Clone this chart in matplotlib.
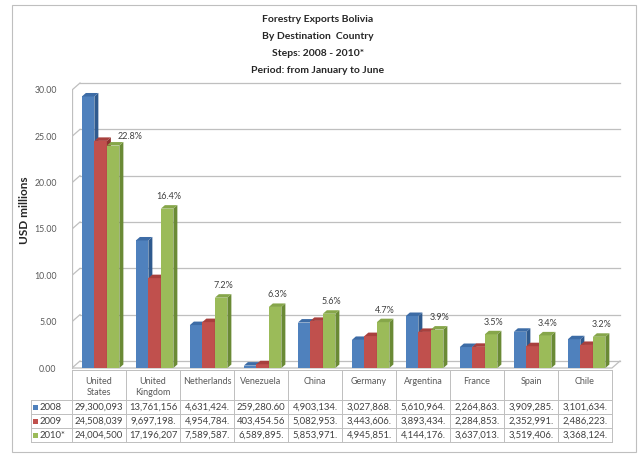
import numpy as np
import matplotlib.pyplot as plt
from matplotlib.patches import Polygon, Rectangle

plt.rcParams['font.family'] = ['Lato', 'DejaVu Sans']

# Exportaciones forestales por país de destino (USD), enero a junio
paises = ['United\nStates', 'United\nKingdom', 'Netherlands', 'Venezuela', 'China',
          'Germany', 'Argentina', 'France', 'Spain', 'Chile']
anos = ['2008', '2009', '2010*']
usd_2008 = [29300093.00, 13761156.00, 4631424.00, 259280.60, 4903134.00,
            3027868.00, 5610964.00, 2264863.00, 3909285.00, 3101634.00]
usd_2009 = [24508039.00, 9697198.00, 4954784.00, 403454.56, 5082953.00,
            3443606.00, 3893434.00, 2284853.00, 2352991.00, 2486223.00]
usd_2010 = [24004500.00, 17196207.00, 7589587.00, 6589895.00, 5853971.00,
            4945851.00, 4144176.00, 3637013.00, 3519406.00, 3368124.00]
participacion = ['22.8%', '16.4%', '7.2%', '6.3%', '5.6%', '4.7%', '3.9%', '3.5%', '3.4%', '3.2%']
titulo = ['Forestry Exports Bolivia', 'By Destination  Country',
          'Steps: 2008 - 2010*', 'Period: from January to June']

series = [usd_2008, usd_2009, usd_2010]
frente = ['#4F81BD', '#C0504D', '#9BBB59']
lado = ['#2F5A8E', '#8E3330', '#6A8A35']
tapa = ['#3D6CA6', '#A8403D', '#86A64A']
gris = '#BFBFBF'
texto = '#404040'

W, H = 639, 455
fig = plt.figure(figsize=(W / 100, H / 100), dpi=100)

# capa de fondo en pixeles: marco, titulo y tabla de datos
bg = fig.add_axes([0, 0, 1, 1], zorder=0)
bg.set_xlim(0, W)
bg.set_ylim(H, 0)
bg.axis('off')
bg.add_patch(Rectangle((12, 5), 624, 447, fill=False, edgecolor=gris, lw=0.8))
for i, linea in enumerate(titulo):
    bg.text(318, 20 + i * 16.7, linea, ha='center', va='center', fontsize=7.5,
            fontweight='bold', color='#262626')

# grafico de barras
x_izq, col_w = 72, 54
ppu = 278 / 30  # pixeles por millon
ax = fig.add_axes([x_izq / W, 1 - 372 / H, 550 / W, 292 / H], zorder=1)
ax.patch.set_alpha(0)
ax.set_xlim(-0.5, -0.5 + 550 / col_w)
ax.set_ylim(-4 / ppu, 30 + 10 / ppu)
for s in ax.spines.values():
    s.set_visible(False)

# paredes 3D: cuadricula en la pared del fondo y el piso
dxw, dyw = 8 / col_w, 7 / ppu
for v in range(0, 31, 5):
    ax.plot([-0.5, -0.5 + dxw], [v, v + dyw], color=gris, lw=0.9, zorder=1)
    ax.plot([-0.5 + dxw, 9.5 + dxw], [v + dyw, v + dyw], color=gris, lw=0.9, zorder=1)
ax.plot([-0.5, -0.5], [0, 30], color=gris, lw=0.9, zorder=1)
ax.plot([-0.5, 9.5, 9.5 + dxw], [0, 0, dyw], color=gris, lw=0.9, zorder=1)

w = 12.5 / col_w
dxb, dyb = 4 / col_w, 3.5 / ppu
x = np.arange(len(paises))
for k, serie in enumerate(series):
    vals = np.array(serie) / 1e6
    barras = ax.bar(x + (k - 1) * w + 0.03, vals, w, color=frente[k], edgecolor='none',
                    zorder=3 + k)
    for r in barras:
        x0, h = r.get_x(), r.get_height()
        x1 = x0 + w
        ax.add_patch(Polygon([(x1, 0), (x1 + dxb, dyb), (x1 + dxb, h + dyb), (x1, h)],
                             closed=True, color=lado[k], lw=0, zorder=3 + k))
        ax.add_patch(Polygon([(x0, h), (x0 + dxb, h + dyb), (x1 + dxb, h + dyb), (x1, h)],
                             closed=True, color=tapa[k], lw=0, zorder=3 + k))
    if k == 2:
        for i, r in enumerate(barras):
            off = (11, 1) if i == 0 else (0, 3)
            ax.annotate(participacion[i], (r.get_x() + (w + dxb) / 2, r.get_height() + dyb),
                        xytext=off, textcoords='offset points', ha='center', va='bottom',
                        fontsize=6.5, color=texto, zorder=10)

ax.set_xticks([])
ax.set_yticks(range(0, 31, 5))
ax.set_yticklabels([f'{v:.2f}' for v in range(0, 31, 5)])
ax.tick_params(axis='y', length=0, pad=11, labelsize=6.3, labelcolor='#595959')
bg.text(25, 210, 'USD millions', rotation=90, ha='center', va='center', fontsize=8.5,
        fontweight='bold', color='#262626')

# tabla de datos bajo el eje
filas = [370, 400, 414, 428, 442]
x_der = x_izq + col_w * len(paises)
bg.plot([x_izq, x_der], [filas[0], filas[0]], color=gris, lw=0.7)
for yf in filas[1:]:
    bg.plot([31, x_der], [yf, yf], color=gris, lw=0.7)
bg.plot([31, 31], [filas[1], filas[-1]], color=gris, lw=0.7)
for i in range(len(paises) + 1):
    xc = x_izq + col_w * i
    bg.plot([xc, xc], [filas[0], filas[-1]], color=gris, lw=0.7)

for i, p in enumerate(paises):
    xc = x_izq + col_w * (i + 0.5)
    bg.text(xc, 377, p, ha='center', va='top', fontsize=6.5, color='#595959', linespacing=1.35)
    for k, serie in enumerate(series):
        yc = (filas[k + 1] + filas[k + 2]) / 2
        bg.text(xc, yc, f'{serie[i]:,.2f}'[:10], ha='center', va='center', fontsize=6.8,
                color=texto)

for k, a in enumerate(anos):
    yc = (filas[k + 1] + filas[k + 2]) / 2
    bg.add_patch(Rectangle((33, yc - 2.5), 5, 5, color=frente[k], lw=0))
    bg.text(40, yc, a, ha='left', va='center', fontsize=6.8, color=texto)

fig.savefig('out.png', dpi=100)
